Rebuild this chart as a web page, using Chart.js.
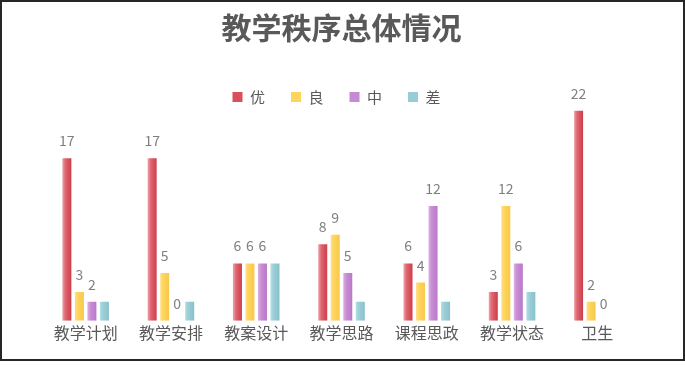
<!DOCTYPE html>
<html>
<head>
<meta charset="utf-8">
<script src="https://cdn.jsdelivr.net/npm/chart.js@4.4.1/dist/chart.umd.min.js"></script>
<style>
  html, body { margin: 0; padding: 0; background: #fff; }
  #frame { position: absolute; left: 0; top: 0; width: 685px; height: 361px; box-sizing: border-box; border: 2px solid #262626; }
  #wrap { position: absolute; left: 0; top: 0; width: 685px; height: 371px; }
</style>
</head>
<body>
<div id="frame"></div>
<div id="wrap"><canvas id="c" width="685" height="371"></canvas></div>
<script>
const categories = ['教学计划', '教学安排', '教案设计', '教学思路', '课程思政', '教学状态', '卫生'];
const seriesNames = ['优', '良', '中', '差'];
const excellent = [17, 17, 6, 8, 6, 3, 22];
const good      = [3, 5, 6, 9, 4, 12, 2];
const medium    = [2, 0, 6, 5, 12, 6, 0];
const poor      = [2, 2, 6, 2, 2, 3, 0];
const showValueLabels = [true, true, true, false];
const yMax = 22;

const FONT = '"Noto Sans CJK SC", "Noto Sans", sans-serif';
const baseColors = ['#d9505a', '#ffd45a', '#c68ad4', '#98ccd6'];
const gradStops = [
  [['#eca3a8', 0], ['#e06470', 0.35], ['#cc3f49', 1]],
  [['#ffe08e', 0], ['#ffd55c', 0.3], ['#f7c94c', 1]],
  [['#dcb0e4', 0], ['#c98cd6', 0.35], ['#b978c6', 1]],
  [['#b5dce3', 0], ['#9bcfd8', 0.35], ['#88c0ca', 1]]
];
const CAT_PCT = 0.587, BAR_PCT = 0.72;

function barGradient(ctx) {
  const chart = ctx.chart;
  const xs = chart.scales && chart.scales.x;
  if (!xs || ctx.type !== 'data') return baseColors[ctx.datasetIndex];
  const n = chart.data.datasets.length;
  const catW = (xs.right - xs.left) / categories.length * CAT_PCT;
  const pitch = catW / n;
  const cx = xs.getPixelForValue(ctx.dataIndex) - catW / 2 + pitch * (ctx.datasetIndex + 0.5);
  const w = pitch * BAR_PCT;
  const g = chart.ctx.createLinearGradient(cx - w / 2, 0, cx + w / 2, 0);
  gradStops[ctx.datasetIndex].forEach(([c, s]) => g.addColorStop(s, c));
  return g;
}

const valueLabels = {
  id: 'valueLabels',
  afterDatasetsDraw(chart) {
    const c = chart.ctx;
    c.save();
    c.font = '14px ' + FONT;
    c.fillStyle = '#7f7f7f';
    c.textAlign = 'center';
    c.textBaseline = 'alphabetic';
    chart.data.datasets.forEach((ds, di) => {
      if (!showValueLabels[di]) return;
      const meta = chart.getDatasetMeta(di);
      meta.data.forEach((bar, i) => {
        c.fillText(String(ds.data[i]), bar.x, bar.y - 12);
      });
    });
    c.restore();
  }
};

const legendShift = {
  id: 'legendShift',
  afterLayout(chart) {
    if (chart.legend) { chart.legend.left -= 5; chart.legend.right -= 5; }
  }
};

const seriesData = [excellent, good, medium, poor];

new Chart(document.getElementById('c'), {
  type: 'bar',
  data: {
    labels: categories,
    datasets: seriesNames.map((name, i) => ({
      label: name,
      data: seriesData[i],
      backgroundColor: barGradient,
      borderWidth: 0,
      categoryPercentage: CAT_PCT,
      barPercentage: BAR_PCT
    }))
  },
  options: {
    responsive: false,
    animation: false,
    devicePixelRatio: 1,
    layout: { padding: { left: 43, right: 45, top: 0, bottom: 25 } },
    plugins: {
      title: {
        display: true,
        text: '教学秩序总体情况',
        color: '#595959',
        font: { family: FONT, size: 30, weight: 'bold', lineHeight: 1.2 },
        padding: { top: 10, bottom: 17.5 }
      },
      legend: {
        display: true,
        position: 'top',
        maxHeight: 47,
        labels: {
          color: '#595959',
          font: { family: FONT, size: 15 },
          boxWidth: 10,
          boxHeight: 10,
          padding: 26,
          generateLabels(chart) {
            return chart.data.datasets.map((ds, i) => ({
              text: ds.label,
              fillStyle: baseColors[i],
              strokeStyle: baseColors[i],
              lineWidth: 0,
              fontColor: '#595959',
              datasetIndex: i
            }));
          }
        }
      },
      tooltip: { enabled: false }
    },
    scales: {
      x: {
        grid: { display: false, drawTicks: false },
        border: { display: false },
        ticks: { color: '#595959', font: { family: FONT, size: 16 }, padding: 3 }
      },
      y: {
        display: false,
        min: 0,
        max: yMax
      }
    }
  },
  plugins: [valueLabels, legendShift]
});
</script>
</body>
</html>
